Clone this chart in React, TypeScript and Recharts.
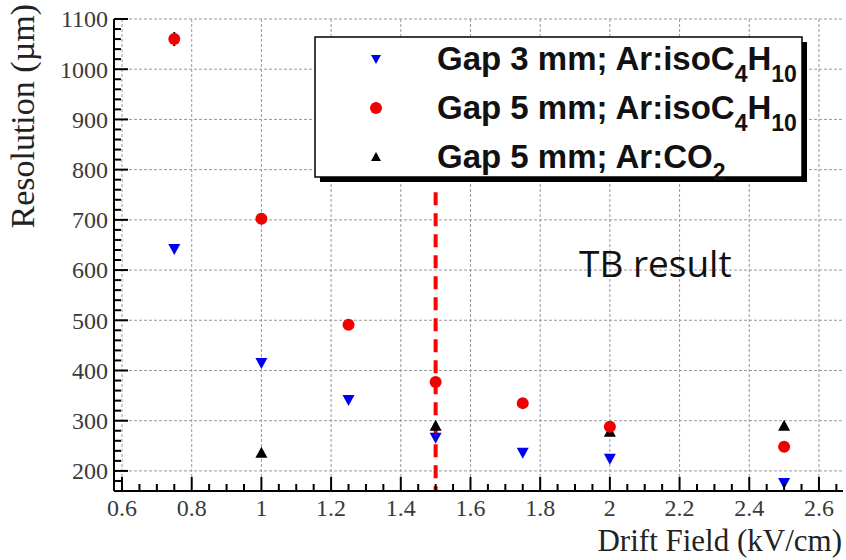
import React from "react";
import { ScatterChart, Scatter, XAxis, YAxis, CartesianGrid, ReferenceLine, ErrorBar } from "recharts";

// Drift field (kV/cm) and resolution (um)
const fieldGap3Iso = [0.75, 1.0, 1.25, 1.5, 1.75, 2.0, 2.5];
const resGap3Iso = [642, 415, 341, 266, 236, 224, 176];

const fieldGap5Iso = [0.75, 1.0, 1.25, 1.5, 1.75, 2.0, 2.5];
const resGap5Iso = [1060, 702, 491, 377, 335, 288, 248];
const errGap5Iso = [14, 0, 0, 0, 0, 0, 0];

const fieldGap5Co2 = [1.0, 1.5, 2.0, 2.5];
const resGap5Co2 = [236, 290, 278, 290];

const X_DOMAIN = [0.577, 2.669];
const Y_DOMAIN = [160, 1100];

const xMajor = [0.6, 0.8, 1, 1.2, 1.4, 1.6, 1.8, 2, 2.2, 2.4, 2.6];
const xTicks = [
    0.6, 0.65, 0.7, 0.75, 0.8, 0.85, 0.9, 0.95, 1, 1.05, 1.1, 1.15, 1.2, 1.25, 1.3, 1.35,
    1.4, 1.45, 1.5, 1.55, 1.6, 1.65, 1.7, 1.75, 1.8, 1.85, 1.9, 1.95, 2, 2.05, 2.1, 2.15,
    2.2, 2.25, 2.3, 2.35, 2.4, 2.45, 2.5, 2.55, 2.6, 2.65,
];
const yMajor = [200, 300, 400, 500, 600, 700, 800, 900, 1000, 1100];
const yTicks = [
    180, 200, 220, 240, 260, 280, 300, 320, 340, 360, 380, 400, 420, 440, 460, 480, 500,
    520, 540, 560, 580, 600, 620, 640, 660, 680, 700, 720, 740, 760, 780, 800, 820, 840,
    860, 880, 900, 920, 940, 960, 980, 1000, 1020, 1040, 1060, 1080, 1100,
];

// TB marker line
const tbField = 1.5;
const tbLineTop = 755;

const legendLabels: Array<Array<[string, boolean]>> = [
    [["Gap 3 mm; Ar:isoC", false], ["4", true], ["H", false], ["10", true]],
    [["Gap 5 mm; Ar:isoC", false], ["4", true], ["H", false], ["10", true]],
    [["Gap 5 mm; Ar:CO", false], ["2", true]],
];

const gap3Data = fieldGap3Iso.map((x, i) => ({ x, y: resGap3Iso[i] }));
const gap5Data = fieldGap5Iso.map((x, i) => ({ x, y: resGap5Iso[i], err: errGap5Iso[i] }));
const co2Data = fieldGap5Co2.map((x, i) => ({ x, y: resGap5Co2[i] }));

const isMajor = (v: number, list: number[]) => list.some((m) => Math.abs(m - v) < 1e-6);

const TICK_FONT = "'Liberation Serif', 'Times New Roman', serif";

const BottomTick = (p: any) => {
    const major = isMajor(p.payload.value, xMajor);
    return (
        <g>
            <line x1={p.x} x2={p.x} y1={p.y} y2={p.y - (major ? 14 : 7)} stroke="#000" strokeWidth={2} />
            {major && (
                <text x={p.x} y={p.y + 8} dy="0.71em" textAnchor="middle" fill="#3a3a3a" fontSize={24} fontFamily={TICK_FONT}>
                    {String(p.payload.value)}
                </text>
            )}
        </g>
    );
};

const TopTick = (p: any) => {
    const major = isMajor(p.payload.value, xMajor);
    return <line x1={p.x} x2={p.x} y1={p.y} y2={p.y + (major ? 14 : 7)} stroke="#000" strokeWidth={2} />;
};

const LeftTick = (p: any) => {
    const major = isMajor(p.payload.value, yMajor);
    return (
        <g>
            <line x1={p.x} x2={p.x + (major ? 14 : 7)} y1={p.y} y2={p.y} stroke="#000" strokeWidth={2} />
            {major && (
                <text x={p.x - 6} y={p.y} dy="0.35em" textAnchor="end" fill="#3a3a3a" fontSize={24} fontFamily={TICK_FONT}>
                    {String(p.payload.value)}
                </text>
            )}
        </g>
    );
};

const RightTick = (p: any) => {
    const major = isMajor(p.payload.value, yMajor);
    return <line x1={p.x} x2={p.x - (major ? 13 : 7)} y1={p.y} y2={p.y} stroke="#000" strokeWidth={2} />;
};

const DownTriangle = ({ cx, cy }: any) => (
    <polygon points={`${cx - 6},${cy - 5} ${cx + 6},${cy - 5} ${cx},${cy + 6}`} fill="#0000f0" />
);
const RedCircle = ({ cx, cy }: any) => <circle cx={cx} cy={cy} r={6} fill="#f00000" />;
const UpTriangle = ({ cx, cy }: any) => (
    <polygon points={`${cx - 6},${cy + 5} ${cx + 6},${cy + 5} ${cx},${cy - 6}`} fill="#000" />
);

const frameLine = { stroke: "#000", strokeWidth: 2 };

export default function App() {
    return (
        <div style={{ position: "absolute", left: 0, top: 0, width: 846, height: 560, background: "#fff" }}>
            <ScatterChart width={846} height={560} margin={{ top: 19, right: 3, bottom: 29, left: 14 }}>
                <CartesianGrid
                    horizontalValues={yMajor}
                    verticalValues={xMajor}
                    stroke="#999"
                    strokeDasharray="3 2"
                />
                <XAxis
                    xAxisId="top"
                    orientation="top"
                    mirror
                    height={0}
                    type="number"
                    domain={X_DOMAIN}
                    allowDataOverflow
                    ticks={xTicks}
                    interval={0}
                    tickSize={0}
                    tickMargin={0}
                    tickLine={false}
                    tick={(p: any) => <TopTick {...p} />}
                    axisLine={frameLine}
                />
                <XAxis
                    dataKey="x"
                    type="number"
                    domain={X_DOMAIN}
                    allowDataOverflow
                    ticks={xTicks}
                    interval={0}
                    height={40}
                    tickSize={0}
                    tickMargin={0}
                    tickLine={false}
                    tick={(p: any) => <BottomTick {...p} />}
                    axisLine={frameLine}
                />
                <YAxis
                    yAxisId="right"
                    orientation="right"
                    mirror
                    width={0}
                    type="number"
                    domain={Y_DOMAIN}
                    allowDataOverflow
                    ticks={yTicks}
                    interval={0}
                    tickSize={0}
                    tickMargin={0}
                    tickLine={false}
                    tick={(p: any) => <RightTick {...p} />}
                    axisLine={frameLine}
                />
                <YAxis
                    dataKey="y"
                    type="number"
                    domain={Y_DOMAIN}
                    allowDataOverflow
                    ticks={yTicks}
                    interval={0}
                    width={100}
                    tickSize={0}
                    tickMargin={0}
                    tickLine={false}
                    tick={(p: any) => <LeftTick {...p} />}
                    axisLine={frameLine}
                />
                <ReferenceLine
                    segment={[
                        { x: tbField, y: tbLineTop },
                        { x: tbField, y: Y_DOMAIN[0] },
                    ]}
                    stroke="#f00"
                    strokeWidth={4}
                    strokeDasharray="13 8"
                />
                <Scatter data={co2Data} shape={UpTriangle} isAnimationActive={false} />
                <Scatter data={gap5Data} shape={RedCircle} isAnimationActive={false}>
                    <ErrorBar dataKey="err" direction="y" width={0} stroke="#000" strokeWidth={2} />
                </Scatter>
                <Scatter data={gap3Data} shape={DownTriangle} isAnimationActive={false} />
            </ScatterChart>

            <svg
                width={846}
                height={560}
                style={{ position: "absolute", left: 0, top: 0, pointerEvents: "none" }}
            >
                <text
                    transform="translate(34, 4) rotate(-90)"
                    textAnchor="end"
                    fontSize={34}
                    fontFamily={TICK_FONT}
                    fill="#222"
                >
                    Resolution (µm)
                </text>
                <text x={842} y={551} textAnchor="end" fontSize={31} fontFamily={TICK_FONT} fill="#222">
                    Drift Field (kV/cm)
                </text>
                <text x={579} y={277} fontSize={37} fontFamily="'Open Sans', sans-serif" fill="#111">
                    TB result
                </text>

                <g transform="translate(315, 37)">
                    <rect x={5} y={5} width={487} height={140} fill="#000" />
                    <rect x={0} y={0} width={487} height={140} fill="#fff" stroke="#000" strokeWidth={1.5} />
                    <polygon points="56,18 66,18 61,27" fill="#0000f0" />
                    <circle cx={61} cy={71} r={6} fill="#f00000" />
                    <polygon points="56,124 66,124 61,115" fill="#000" />
                    {legendLabels.map((parts, row) => (
                        <text
                            key={row}
                            x={122}
                            y={33 + row * 49}
                            fontSize={33}
                            fontWeight="bold"
                            fontFamily="'Liberation Sans', Arial, sans-serif"
                            fill="#111"
                        >
                            {parts.map(([t, sub], i) => {
                                const prevSub = i > 0 && parts[i - 1][1];
                                const dy = sub ? 12 : prevSub ? -12 : 0;
                                return (
                                    <tspan key={i} dy={dy} fontSize={sub ? 23 : 33}>
                                        {t}
                                    </tspan>
                                );
                            })}
                        </text>
                    ))}
                </g>
            </svg>
        </div>
    );
}
